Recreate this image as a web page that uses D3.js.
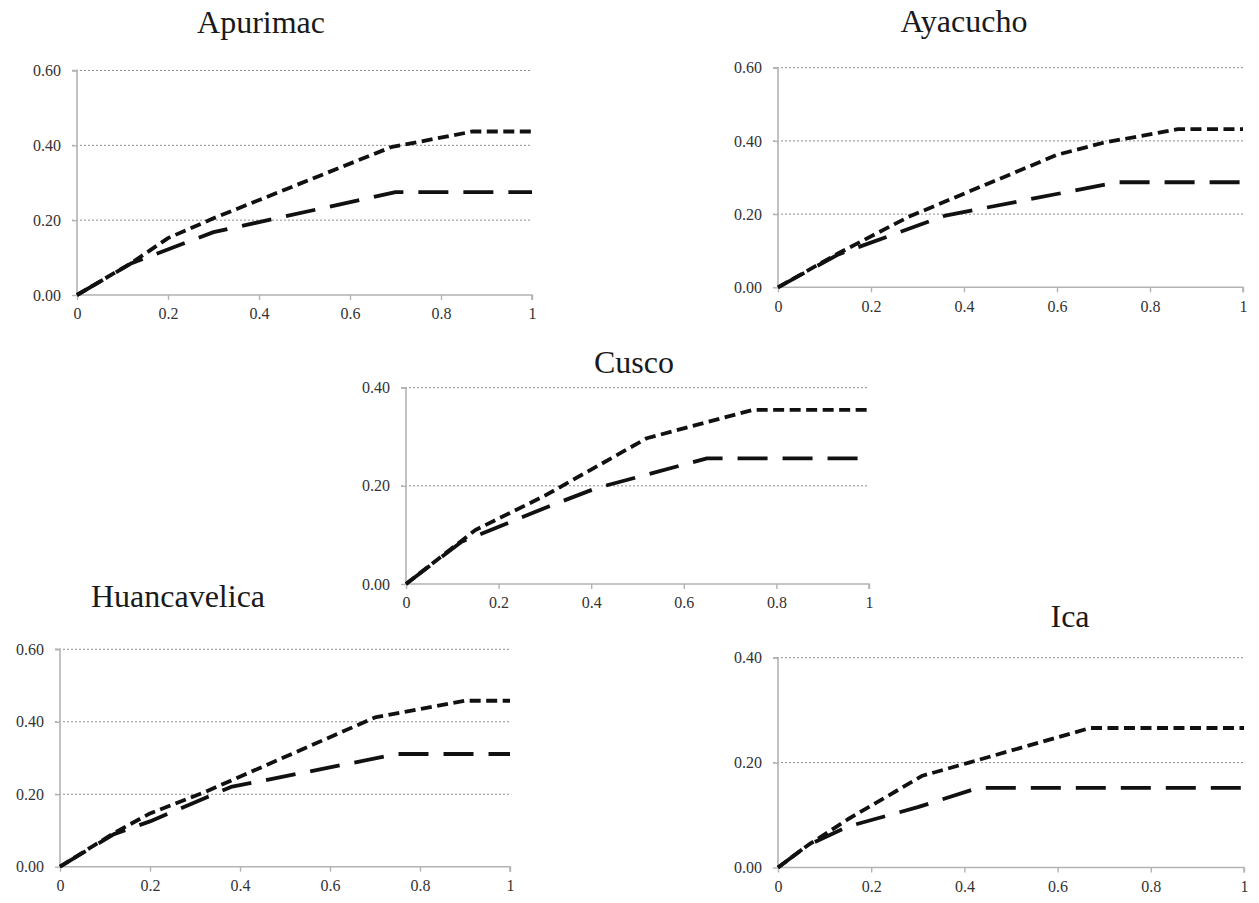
<!DOCTYPE html>
<html>
<head>
<meta charset="utf-8">
<script src="https://cdn.jsdelivr.net/npm/d3@7"></script>
<style>
  html, body { margin: 0; padding: 0; background: #ffffff; }
  svg { display: block; }
</style>
</head>
<body>
<svg id="chart" width="1259" height="903"></svg>
<script>
// ---------------- DATA ----------------
const regions = ["Apurimac", "Ayacucho", "Cusco", "Huancavelica", "Ica"];
const xTicks = [0, 0.2, 0.4, 0.6, 0.8, 1];
const xTickLabels = ["0", "0.2", "0.4", "0.6", "0.8", "1"];
const yMaxByRegion = [0.6, 0.6, 0.4, 0.6, 0.4];
const yTicks06 = [0, 0.2, 0.4, 0.6];
const yTicks04 = [0, 0.2, 0.4];
const yTickLabels06 = ["0.00", "0.20", "0.40", "0.60"];
const yTickLabels04 = ["0.00", "0.20", "0.40"];

// short-dash series (upper curve), [x, y]
const apurimacShort = [[0,0],[0.12,0.086],[0.2,0.152],[0.3,0.205],[0.69,0.395],[0.87,0.437],[1,0.437]];
const ayacuchoShort = [[0,0],[0.13,0.093],[0.28,0.192],[0.6,0.362],[0.7,0.395],[0.86,0.432],[1,0.432]];
const cuscoShort = [[0,0],[0.15,0.11],[0.3,0.18],[0.52,0.297],[0.75,0.355],[1,0.355]];
const huancavelicaShort = [[0,0],[0.12,0.093],[0.2,0.147],[0.32,0.205],[0.7,0.412],[0.9,0.458],[1,0.458]];
const icaShort = [[0,0],[0.065,0.043],[0.15,0.092],[0.31,0.175],[0.41,0.2],[0.67,0.266],[1,0.266]];

// long-dash series (lower curve), [x, y]
const apurimacLong = [[0,0],[0.12,0.085],[0.3,0.168],[0.7,0.275],[1,0.275]];
const ayacuchoLong = [[0,0],[0.13,0.09],[0.36,0.196],[0.73,0.287],[1,0.287]];
const cuscoLong = [[0,0],[0.12,0.086],[0.3,0.155],[0.41,0.195],[0.65,0.256],[1,0.256]];
const huancavelicaLong = [[0,0],[0.12,0.09],[0.2,0.125],[0.38,0.22],[0.75,0.311],[1,0.311]];
const icaLong = [[0,0],[0.065,0.043],[0.15,0.078],[0.3,0.115],[0.43,0.152],[1,0.152]];

const shortSeries = [apurimacShort, ayacuchoShort, cuscoShort, huancavelicaShort, icaShort];
const longSeries = [apurimacLong, ayacuchoLong, cuscoLong, huancavelicaLong, icaLong];

// ---------------- LAYOUT ----------------
const layout = [
  { left: 77,  right: 532,  top: 70.5,  bottom: 295,   tx: 261,  ty: 33 },
  { left: 778, right: 1243, top: 67.7,  bottom: 287.3, tx: 964,  ty: 32 },
  { left: 406, right: 869,  top: 387.7, bottom: 584,   tx: 634,  ty: 373 },
  { left: 60,  right: 510,  top: 649.3, bottom: 866.7, tx: 178,  ty: 607 },
  { left: 778, right: 1244, top: 657.7, bottom: 867.5, tx: 1070, ty: 627 }
];

const svg = d3.select("#chart");
const serif = "'Liberation Serif', 'Times New Roman', serif";

regions.forEach((name, i) => {
  const L = layout[i];
  const yMax = yMaxByRegion[i];
  const yTicks = yMax === 0.6 ? yTicks06 : yTicks04;
  const yLabels = yMax === 0.6 ? yTickLabels06 : yTickLabels04;

  const x = d3.scaleLinear().domain([0, 1]).range([L.left, L.right]);
  const y = d3.scaleLinear().domain([0, yMax]).range([L.bottom, L.top]);

  const g = svg.append("g");

  // title
  g.append("text")
    .attr("x", L.tx).attr("y", L.ty)
    .attr("text-anchor", "middle")
    .style("font-family", serif)
    .style("font-size", "32px")
    .attr("fill", "#1a1a1a")
    .text(name);

  // gridlines (dotted) for y > 0
  g.selectAll(".grid")
    .data(yTicks.filter(v => v > 0))
    .enter().append("line")
    .attr("x1", x(0) - 5).attr("x2", x(1))
    .attr("y1", d => y(d)).attr("y2", d => y(d))
    .attr("stroke", "#8c8c8c")
    .attr("stroke-width", 1)
    .attr("stroke-dasharray", "2,2");

  // y axis
  const yAxis = d3.axisLeft(y)
    .tickValues(yTicks)
    .tickFormat((d, k) => yLabels[k])
    .tickSize(5)
    .tickPadding(11);
  const ya = g.append("g").attr("transform", `translate(${x(0)},0)`).call(yAxis);

  // x axis
  const xAxis = d3.axisBottom(x)
    .tickValues(xTicks)
    .tickFormat((d, k) => xTickLabels[k])
    .tickSize(5)
    .tickPadding(8);
  const xa = g.append("g").attr("transform", `translate(0,${y(0)})`).call(xAxis);

  [ya, xa].forEach(a => {
    a.select(".domain").attr("stroke", "#b3b3b3").attr("stroke-width", 1.6);
    a.selectAll(".tick line").attr("stroke", "#b3b3b3").attr("stroke-width", 1.4);
    a.selectAll(".tick text")
      .style("font-family", serif)
      .style("font-size", "16px")
      .attr("fill", "#333333");
  });
  ya.select(".domain").attr("d", `M-5,${y(yMax)}H0V${y(0)}`);
  xa.select(".domain").attr("d", `M${x(0)},0H${x(1)}V5`);

  const line = d3.line().x(d => x(d[0])).y(d => y(d[1]));

  // long dash series
  g.append("path")
    .datum(longSeries[i])
    .attr("d", line)
    .attr("fill", "none")
    .attr("stroke", "#111")
    .attr("stroke-width", 3.8)
    .attr("stroke-dasharray", "30,15")
    .attr("stroke-linejoin", "round");

  // short dash series
  g.append("path")
    .datum(shortSeries[i])
    .attr("d", line)
    .attr("fill", "none")
    .attr("stroke", "#111")
    .attr("stroke-width", 3.8)
    .attr("stroke-dasharray", "11,5.5")
    .attr("stroke-linejoin", "round");
});
</script>
</body>
</html>
